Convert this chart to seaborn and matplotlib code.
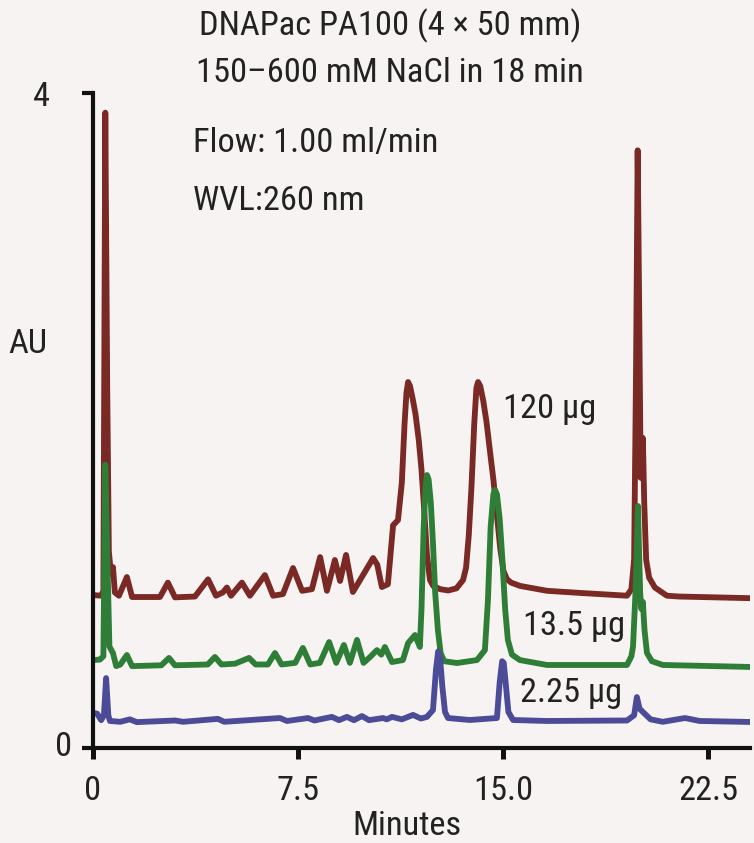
import os
import matplotlib
matplotlib.use("Agg")
import matplotlib.pyplot as plt
import matplotlib.transforms as mtransforms
from matplotlib import font_manager as fm
import seaborn as sns
import pandas as pd

# ---- data (time in minutes, absorbance in AU) ----
red_t = [0.0, 0.30, 0.38, 0.45, 0.52, 0.58, 0.66, 0.73, 0.80, 0.95, 1.24, 1.43,
         2.45, 2.74, 3.00, 3.73, 4.21, 4.50, 4.75, 4.90, 5.05, 5.45, 5.74,
         6.29, 6.59, 6.95, 7.32, 7.65, 8.01, 8.31, 8.56, 8.85, 9.04, 9.26,
         9.51, 9.88, 10.25, 10.40, 10.57, 10.79, 10.98, 11.16, 11.30, 11.40,
         11.47, 11.53, 11.60, 11.70, 11.80, 11.92, 12.02, 12.12, 12.22, 12.33,
         12.45, 12.70, 13.00, 13.30, 13.54, 13.65, 13.75, 13.85, 13.95, 14.03,
         14.09, 14.17, 14.28, 14.40, 14.52, 14.65, 14.78, 14.90, 15.02, 15.15,
         15.30, 15.62, 16.61, 17.82, 19.54, 19.70, 19.80, 19.87, 19.93, 19.99,
         20.04, 20.08, 20.12, 20.17, 20.24, 20.35, 20.56, 21.00, 21.44, 24.04]
red_au = [0.934, 0.93, 0.96, 3.88, 2.20, 1.20, 1.06, 1.105, 0.95, 0.93, 1.044, 0.922,
          0.922, 1.01, 0.92, 0.925, 1.03, 0.93, 0.95, 0.98, 0.93, 1.01, 0.93,
          1.056, 0.93, 0.94, 1.099, 0.96, 0.97, 1.166, 0.96, 1.148, 1.02, 1.179,
          0.953, 1.056, 1.16, 1.12, 0.983, 1.00, 1.36, 1.392, 1.62, 1.98,
          2.17, 2.235, 2.21, 2.13, 2.04, 1.88, 1.70, 1.45, 1.18, 1.026,
          0.99, 0.97, 0.962, 0.975, 1.026, 1.10, 1.30, 1.60, 1.98, 2.20,
          2.235, 2.21, 2.12, 1.99, 1.82, 1.64, 1.42, 1.22, 1.08, 1.03,
          1.01, 0.99, 0.96, 0.947, 0.93, 0.97, 1.15, 2.30, 3.65, 2.60,
          1.65, 1.75, 1.893, 1.50, 1.15, 1.04, 0.98, 0.93, 0.925, 0.915]

green_t = [0.0, 0.25, 0.38, 0.45, 0.52, 0.60, 0.73, 0.85, 1.00, 1.24, 1.43,
           2.50, 2.78, 3.00, 4.20, 4.46, 4.70, 5.20, 5.71, 5.95, 6.40, 6.66,
           6.90, 7.40, 7.68, 7.95, 8.30, 8.64, 8.90, 9.18, 9.40, 9.66, 9.90,
           10.14, 10.39, 10.55, 10.68, 10.94, 11.34, 11.53, 11.78, 11.96, 12.02,
           12.10, 12.17, 12.22, 12.28, 12.36, 12.44, 12.52, 12.62, 12.72, 12.85,
           13.32, 14.05, 14.34, 14.45, 14.55, 14.65, 14.71, 14.78, 14.88, 14.98,
           15.08, 15.18, 15.33, 15.62, 16.61, 19.54, 19.70, 19.76, 19.85, 19.94,
           20.02, 20.06, 20.12, 20.18, 20.27, 20.45, 20.85, 24.04]
green_au = [0.537, 0.54, 0.56, 1.73, 1.20, 0.62, 0.58, 0.50, 0.51, 0.568, 0.50,
            0.505, 0.55, 0.505, 0.51, 0.556, 0.51, 0.515, 0.55, 0.51, 0.51, 0.58,
            0.51, 0.52, 0.611, 0.51, 0.52, 0.647, 0.52, 0.629, 0.52, 0.66, 0.52,
            0.556, 0.598, 0.57, 0.617, 0.525, 0.537, 0.641, 0.69, 0.617, 0.85,
            1.35, 1.60, 1.667, 1.64, 1.50, 1.25, 0.95, 0.72, 0.58, 0.53,
            0.519, 0.537, 0.598, 0.90, 1.35, 1.55, 1.576, 1.55, 1.40, 1.15,
            0.85, 0.66, 0.57, 0.537, 0.507, 0.507, 0.56, 0.62, 0.95, 1.478,
            0.95, 0.85, 0.892, 0.72, 0.58, 0.53, 0.507, 0.495]

blue_t = [0.0, 0.15, 0.30, 0.40, 0.48, 0.56, 0.62, 1.00, 1.35, 1.60, 3.00, 3.30,
          4.57, 4.80, 6.84, 7.10, 7.87, 8.10, 8.74, 9.00, 9.29, 9.55, 9.84,
          10.10, 10.61, 10.75, 10.94, 11.30, 11.71, 12.00, 12.22, 12.44, 12.55,
          12.63, 12.70, 12.78, 12.88, 12.99, 13.79, 14.78, 14.88, 14.97, 15.03,
          15.11, 15.20, 15.37, 16.61, 19.54, 19.80, 19.90, 20.00, 20.12, 20.40,
          20.85, 21.66, 22.20, 24.04]
blue_au = [0.214, 0.21, 0.17, 0.20, 0.427, 0.20, 0.165, 0.16, 0.175, 0.158, 0.168, 0.16,
           0.178, 0.16, 0.183, 0.165, 0.183, 0.168, 0.19, 0.17, 0.19, 0.17, 0.195,
           0.17, 0.183, 0.175, 0.19, 0.175, 0.202, 0.18, 0.19, 0.232, 0.48,
           0.59, 0.55, 0.38, 0.22, 0.183, 0.171, 0.183, 0.40, 0.53, 0.52,
           0.38, 0.22, 0.171, 0.165, 0.168, 0.20, 0.311, 0.24, 0.22, 0.175,
           0.16, 0.183, 0.165, 0.159]

series_labels = ["120 µg", "13.5 µg", "2.25 µg"]
x_ticks = [0, 7.5, 15.0, 22.5]
x_tick_labels = ["0", "7.5", "15.0", "22.5"]
y_ticks = [0, 4]
y_tick_labels = ["0", "4"]

# ---- style ----
W, H = 754, 843
BG = "#f6f3f2"
TXT = "#222222"
COLORS = ["#7a2924", "#2e7e38", "#4b4b98"]
sns.set_style("ticks")
plt.rcParams["font.family"] = ["Roboto", "DejaVu Sans"]


def pick_font():
    fams = ["liberationsans", "roboto", "notosans", "opensans", "dejavusans", "lato"]
    keys = ["narrow", "condensed", "semicondensed"]
    names = {}
    for e in fm.fontManager.ttflist:
        fn = os.path.basename(e.fname).lower()
        for ch in " -_":
            fn = fn.replace(ch, "")
        names[fn] = e.fname
    for fam in fams:
        for key in keys:
            for suf in ["", "regular"]:
                for ext in [".ttf", ".otf"]:
                    k = fam + key + suf + ext
                    if k in names:
                        return names[k]
    return None


fpath = pick_font()


def fprops(size):
    if fpath:
        return fm.FontProperties(fname=fpath, size=size)
    return fm.FontProperties(family=["Roboto", "DejaVu Sans"], size=size)


fig = plt.figure(figsize=(W / 100, H / 100), dpi=100, facecolor=BG)

# fit font size so the title width matches the reference (~382 px)
renderer = fig.canvas.get_renderer()
probe = fig.text(0, 0, "DNAPac PA100 (4 × 50 mm)", fontproperties=fprops(27))
wpx = probe.get_window_extent(renderer).width
probe.remove()
FS = max(20.0, min(29.0, 27 * 382.0 / wpx))

ax = fig.add_axes([93 / W, 1 - 748 / H, (750 - 93) / W, (748 - 93) / H])
ax.set_facecolor(BG)

for t, a, c in [(red_t, red_au, COLORS[0]), (green_t, green_au, COLORS[1]),
                (blue_t, blue_au, COLORS[2])]:
    df = pd.DataFrame({"t": t, "au": a})
    sns.lineplot(data=df, x="t", y="au", color=c, lw=4.2, sort=False,
                 estimator=None, ax=ax, solid_joinstyle="round",
                 solid_capstyle="round")

ax.set_xlim(0, 24.04)
ax.set_ylim(0, 4)
for s in ["top", "right"]:
    ax.spines[s].set_visible(False)
for s in ["left", "bottom"]:
    ax.spines[s].set_color("#111111")
    ax.spines[s].set_linewidth(3.0)

ax.set_xticks(x_ticks)
ax.set_yticks(y_ticks)
ax.set_yticklabels(y_tick_labels)
ax.tick_params(axis="x", direction="out", length=8, width=3.6, color="#111111",
               labelbottom=False)
ax.tick_params(axis="y", direction="out", length=8, width=3.0, color="#111111",
               pad=7, labelcolor=TXT)
for lbl in ax.get_yticklabels():
    lbl.set_fontproperties(fprops(FS))
ax.set_xlabel("")
ax.set_ylabel("")

# shift the "4" label further left as in the original
lab4 = ax.get_yticklabels()[1]
lab4.set_transform(lab4.get_transform() +
                   mtransforms.ScaledTranslation(-22 / 100, 0, fig.dpi_scale_trans))
lab0 = ax.get_yticklabels()[0]
lab0.set_transform(lab0.get_transform() +
                   mtransforms.ScaledTranslation(0, 4 / 100, fig.dpi_scale_trans))

# x tick labels: positioned by the data scale horizontally, baseline at 800 px
xlab_tr = mtransforms.blended_transform_factory(ax.transData, fig.transFigure)
for xv, s in zip(x_ticks, x_tick_labels):
    ax.text(xv, 1 - 800 / H, s, transform=xlab_tr, ha="center", va="baseline",
            fontproperties=fprops(FS), color=TXT, clip_on=False)


def ftext(x, y, s, ha="left", va="baseline"):
    fig.text(x / W, 1 - y / H, s, ha=ha, va=va, fontproperties=fprops(FS),
             color=TXT)


ftext(390, 35, "DNAPac PA100 (4 × 50 mm)", ha="center")
ftext(390, 82, "150–600 mM NaCl in 18 min", ha="center")
ftext(193, 152, "Flow: 1.00 ml/min")
ftext(193, 210, "WVL:260 nm")
ftext(8, 353, "AU")
ftext(503, 418, series_labels[0])
ftext(523, 635, series_labels[1])
ftext(520, 702, series_labels[2])
ftext(407, 842, "Minutes", ha="center", va="bottom")

fig.savefig("out.png", dpi=100, facecolor=BG)
